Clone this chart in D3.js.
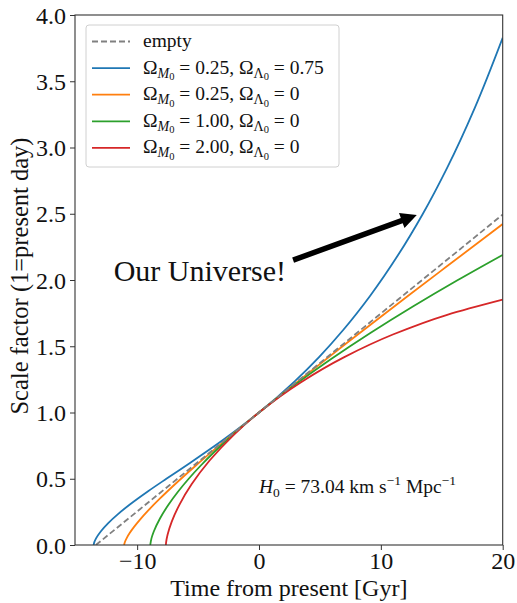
<!DOCTYPE html>
<html>
<head>
<meta charset="utf-8">
<script src="https://cdn.jsdelivr.net/npm/d3@7"></script>
<style>
  html, body { margin: 0; padding: 0; background: #fff; }
  svg { display: block; font-family: "Liberation Serif", "Times New Roman", serif; }
</style>
</head>
<body>
<svg id="chart" width="517" height="603"></svg>
<script>
// Scale factor a(t) against time from the present, for several cosmologies.
const emptyT = [-13.387, 0, 20];
const emptyA = [0, 1, 2.494];

const lcdmT = [-13.572, -13.522, -13.372, -12.972, -12.372, -11.572, -10.572, -9.072, -7.572, -5.572, -3.072, 0, 2.928, 4.928, 6.928, 9.128, 11.428, 13.428, 15.428, 17.728, 20];
const lcdmA = [0, 0.0199, 0.0501, 0.1042, 0.1656, 0.2334, 0.3074, 0.4076, 0.5018, 0.6254, 0.7849, 1, 1.2355, 1.4188, 1.6247, 1.8814, 2.1898, 2.4962, 2.8445, 3.3036, 3.8287];

const openT = [-11.064, -11.052, -11.010, -10.837, -10.613, -10.267, -9.765, -9.066, -8.121, -6.873, -5.249, -3.164, 0, 2.828, 7.017, 12.242, 15.313, 20];
const openA = [0, 0.0076, 0.0213, 0.0562, 0.0905, 0.1351, 0.1918, 0.2629, 0.3513, 0.4604, 0.5947, 0.7595, 1, 1.2088, 1.5113, 1.8811, 2.0958, 2.422];

const edsT = [-8.925, -8.825, -8.643, -8.127, -7.459, -6.667, -5.769, -4.777, -3.698, -2.539, -1.305, 0, 2.807, 5.860, 9.138, 12.629, 16.319, 20];
const edsA = [0, 0.05, 0.1, 0.2, 0.3, 0.4, 0.5, 0.6, 0.7, 0.8, 0.9, 1.0, 1.2, 1.4, 1.6, 1.8, 2.0, 2.19];

const closedT = [-7.641, -7.623, -7.499, -7.168, -6.535, -5.519, -4.054, -2.091, 0, 3.419, 6.960, 10.987, 15.445, 20];
const closedA = [0, 0.0199, 0.0789, 0.1747, 0.3033, 0.4597, 0.6376, 0.8300, 1, 1.2272, 1.4162, 1.5885, 1.7374, 1.852];

const seriesNames = ["empty", "lcdm", "open", "eds", "closed"];
const seriesColors = ["#808080", "#1f77b4", "#ff7f0e", "#2ca02c", "#d62728"];
const omegaM = ["0.25", "0.25", "1.00", "2.00"];
const omegaL = ["0.75", "0", "0", "0"];

const xTicks = [-10, 0, 10, 20];
const yTicks = [0, 0.5, 1, 1.5, 2, 2.5, 3, 3.5, 4];
const xDomain = [-15.1, 20];
const yDomain = [0, 4];

const xLabel = "Time from present [Gyr]";
const yLabel = "Scale factor (1=present day)";
const noteText = "Our Universe!";
const arrowFrom = [2.8, 2.15];
const arrowTo = [12.95, 2.49];
const notePos = [-4.85, 1.99];
const hubbleValue = "73.04";
const hubblePos = [0, 0.39];

// ---- layout ----
const svg = d3.select("#chart");
const L = 75, R = 502.7, T = 15, B = 545;
const x = d3.scaleLinear().domain(xDomain).range([L, R]);
const y = d3.scaleLinear().domain(yDomain).range([B, T]);

svg.append("defs").append("clipPath").attr("id", "plotclip")
  .append("rect").attr("x", L).attr("y", T).attr("width", R - L).attr("height", B - T);

const toPoints = (ts, as) => ts.map((t, i) => [t, as[i]]);
const series = [
  toPoints(emptyT, emptyA),
  toPoints(lcdmT, lcdmA),
  toPoints(openT, openA),
  toPoints(edsT, edsA),
  toPoints(closedT, closedA)
];

const line = d3.line()
  .x(d => x(d[0]))
  .y(d => y(d[1]))
  .curve(d3.curveMonotoneY);

const plot = svg.append("g").attr("clip-path", "url(#plotclip)");
// solid curves first, dashed empty universe on top
[1, 2, 3, 4, 0].forEach(i => {
  plot.append("path")
    .datum(series[i])
    .attr("class", "curve " + seriesNames[i])
    .attr("fill", "none")
    .attr("stroke", seriesColors[i])
    .attr("stroke-width", 1.8)
    .attr("stroke-dasharray", i === 0 ? "6,3" : null)
    .attr("d", line);
});

// ---- axes ----
const xAxis = svg.append("g").attr("transform", `translate(0,${B})`)
  .call(d3.axisBottom(x).tickValues(xTicks).tickSize(5).tickPadding(2).tickFormat(d3.format("d")));
const yAxis = svg.append("g").attr("transform", `translate(${L},0)`)
  .call(d3.axisLeft(y).tickValues(yTicks).tickSize(5).tickPadding(4).tickFormat(d3.format(".1f")));
[xAxis, yAxis].forEach(g => {
  g.select(".domain").remove();
  g.selectAll(".tick line").attr("stroke", "#333").attr("stroke-width", 1);
  g.selectAll(".tick text").attr("fill", "#111")
    .style("font-family", "'Liberation Serif', serif").style("font-size", "24px");
});
xAxis.selectAll(".tick text").attr("dy", "0.71em");
yAxis.selectAll(".tick text").attr("dy", "0.34em");

svg.append("rect").attr("x", L).attr("y", T).attr("width", R - L).attr("height", B - T)
  .attr("fill", "none").attr("stroke", "#333").attr("stroke-width", 1.1);

svg.append("text")
  .attr("x", (L + R) / 2).attr("y", 596)
  .attr("text-anchor", "middle").attr("font-size", 24).attr("fill", "#111")
  .text(xLabel);
svg.append("text")
  .attr("transform", `translate(28,${(T + B) / 2 - 4}) rotate(-90)`)
  .attr("text-anchor", "middle").attr("font-size", 24.5).attr("fill", "#111")
  .text(yLabel);

// ---- annotation arrow ----
{
  const x0 = x(arrowFrom[0]), y0 = y(arrowFrom[1]);
  const x1 = x(arrowTo[0]), y1 = y(arrowTo[1]);
  const ang = Math.atan2(y1 - y0, x1 - x0);
  const len = Math.hypot(x1 - x0, y1 - y0);
  const shaftW = 5.5, headW = 16, headL = 16;
  const pts = [
    [0, -shaftW / 2], [len - headL, -shaftW / 2], [len - headL, -headW / 2],
    [len, 0], [len - headL, headW / 2], [len - headL, shaftW / 2], [0, shaftW / 2]
  ];
  svg.append("path")
    .attr("transform", `translate(${x0},${y0}) rotate(${ang * 180 / Math.PI})`)
    .attr("d", d3.line()(pts) + "Z")
    .attr("fill", "#000");
}
svg.append("text")
  .attr("x", x(notePos[0])).attr("y", y(notePos[1]))
  .attr("text-anchor", "middle").attr("font-size", 30).attr("fill", "#111")
  .text(noteText);

// ---- Hubble constant note ----
{
  const t = svg.append("text")
    .attr("x", x(hubblePos[0])).attr("y", y(hubblePos[1]))
    .attr("font-size", 19.5).attr("fill", "#111");
  t.append("tspan").attr("font-style", "italic").text("H");
  t.append("tspan").attr("font-size", 13.5).attr("dy", 4).text("0");
  t.append("tspan").attr("dy", -4).text(" = " + hubbleValue + " km s");
  t.append("tspan").attr("font-size", 13.5).attr("dy", -8).text("\u22121");
  t.append("tspan").attr("dy", 8).text(" Mpc");
  t.append("tspan").attr("font-size", 13.5).attr("dy", -8).text("\u22121");
}

// ---- legend ----
{
  const lx = 86, ly = 25, lw = 253, lh = 142;
  const lg = svg.append("g");
  lg.append("rect").attr("x", lx).attr("y", ly).attr("width", lw).attr("height", lh)
    .attr("rx", 3).attr("fill", "#fff").attr("fill-opacity", 0.8)
    .attr("stroke", "#d0d0d0").attr("stroke-width", 1);
  const rowY = i => 41.5 + i * 26.6;
  seriesNames.forEach((name, i) => {
    lg.append("line")
      .attr("x1", 92).attr("x2", 130).attr("y1", rowY(i)).attr("y2", rowY(i))
      .attr("stroke", seriesColors[i]).attr("stroke-width", 1.8)
      .attr("stroke-dasharray", i === 0 ? "6,3" : null);
    const t = lg.append("text").attr("x", 143).attr("y", rowY(i) + 5.5)
      .attr("font-size", 19.5).attr("fill", "#111");
    if (i === 0) {
      t.text("empty");
    } else {
      const m = omegaM[i - 1], l = omegaL[i - 1];
      t.append("tspan").text("\u03A9");
      t.append("tspan").attr("font-style", "italic").attr("font-size", 14).attr("dy", 4).text("M");
      t.append("tspan").attr("font-size", 10.5).attr("dy", 2.5).text("0");
      t.append("tspan").attr("dy", -6.5).text(" = " + m + ", \u03A9");
      t.append("tspan").attr("font-size", 14).attr("dy", 4).text("\u039B");
      t.append("tspan").attr("font-size", 10.5).attr("dy", 2.5).text("0");
      t.append("tspan").attr("dy", -6.5).text(" = " + l);
    }
  });
}
</script>
</body>
</html>
